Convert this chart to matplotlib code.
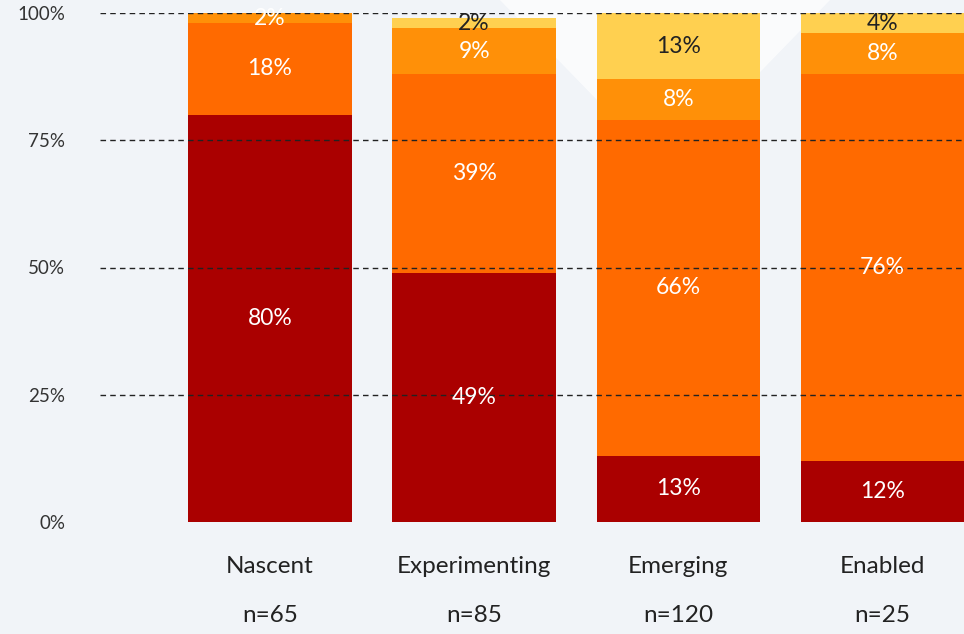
import matplotlib.pyplot as plt
from matplotlib.patches import Polygon

# stages and sample sizes
stages = ["Nascent", "Experimenting", "Emerging", "Enabled"]
sample_sizes = ["n=65", "n=85", "n=120", "n=25"]

# share of each band per stage, bottom to top (%)
dark_red = [80, 49, 13, 12]
orange = [18, 39, 66, 76]
amber = [2, 9, 8, 8]
yellow = [0, 2, 13, 4]

y_ticks = [0, 25, 50, 75, 100]
y_tick_labels = ["0%", "25%", "50%", "75%", "100%"]

plt.rcParams['font.family'] = ['Lato', 'DejaVu Sans']

fig = plt.figure(figsize=(9.64, 6.34), dpi=100)
fig.patch.set_facecolor("#f1f4f8")

# faint white shape in the background, kept behind the axes
fig.patches.append(Polygon([(500 / 964, 1), (830 / 964, 1), (665 / 964, 1 - 170 / 634)],
                           closed=True, transform=fig.transFigure,
                           facecolor="white", edgecolor="none", alpha=0.7, zorder=-1))

ax = fig.add_axes([100 / 964, 1 - 522 / 634, 864 / 964, 509 / 634])
ax.set_facecolor("none")
ax.set_zorder(1)

x = list(range(len(stages)))
width = 0.8
bands = [
    (dark_red, "#aa0000", "white"),
    (orange, "#ff6a00", "white"),
    (amber, "#ff9008", "white"),
    (yellow, "#ffd050", "#222222"),
]

bottom = [0] * len(stages)
for values, color, text_color in bands:
    ax.bar(x, values, width, bottom=bottom, color=color, zorder=2)
    for i, v in enumerate(values):
        if v > 0:
            ax.text(x[i], bottom[i] + v / 2, f"{v}%", ha="center", va="center",
                    fontsize=16.5, color=text_color, zorder=4)
    bottom = [b + v for b, v in zip(bottom, values)]

# dashed reference lines drawn over the bars
for t in y_ticks[1:]:
    ax.axhline(t, color="#222222", linestyle=(0, (4, 3)), linewidth=1, zorder=3)

ax.set_xlim(-0.833, 3.40)
ax.set_ylim(0, 100)
ax.set_yticks(y_ticks)
ax.set_yticklabels(y_tick_labels, fontsize=13.5, color="#333333")
ax.tick_params(axis="y", length=0, pad=25)
ax.set_xticks([])
for s in ax.spines.values():
    s.set_visible(False)

for i in x:
    ax.text(x[i], -0.088, stages[i], transform=ax.get_xaxis_transform(),
            ha="center", va="center", fontsize=17.5, color="#222222")
    ax.text(x[i], -0.183, sample_sizes[i], transform=ax.get_xaxis_transform(),
            ha="center", va="center", fontsize=17.5, color="#222222")

fig.savefig("out.png", dpi=100, facecolor=fig.get_facecolor())
